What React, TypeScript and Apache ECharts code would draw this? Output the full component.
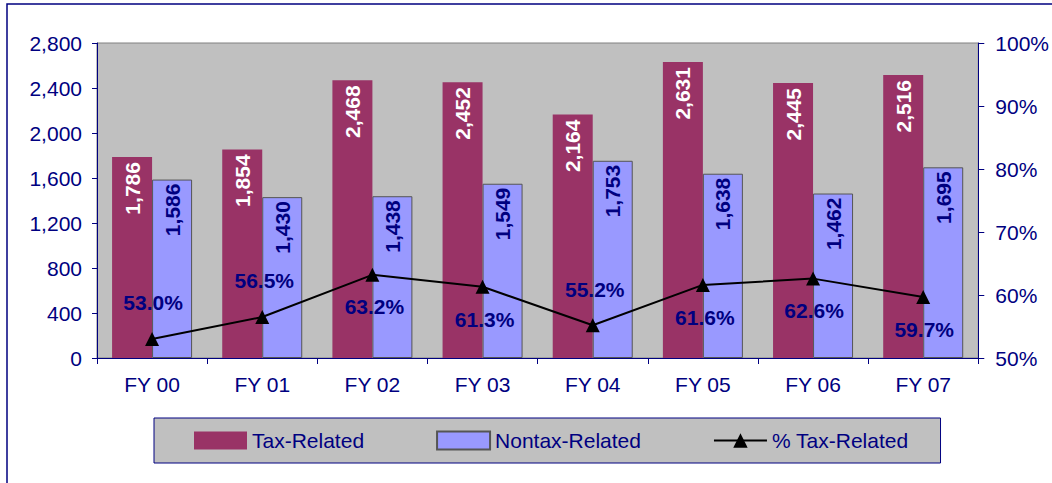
import React, { useEffect, useRef } from "react";
import * as echarts from "echarts";

const categories = ["FY 00", "FY 01", "FY 02", "FY 03", "FY 04", "FY 05", "FY 06", "FY 07"];
const taxRelated = [1786, 1854, 2468, 2452, 2164, 2631, 2445, 2516];
const nontaxRelated = [1586, 1430, 1438, 1549, 1753, 1638, 1462, 1695];
const pctTaxRelated = [53.0, 56.5, 63.2, 61.3, 55.2, 61.6, 62.6, 59.7];
const leftTicks = { min: 0, max: 2800, interval: 400 };
const rightTicks = { min: 50, max: 100, interval: 10 };

// label placement (style only)
const pctLabelOffsets: [number, number][] = [
  [1, -37], [2, -37], [2, 32], [2, 33], [2, -36], [2, 33], [1, 32], [1, 33],
];

const NAVY = "#000080";
const FONT = "'Liberation Sans', Arial, sans-serif";
const FS = 21;

export default function App() {
  const ref = useRef<HTMLDivElement>(null);
  useEffect(() => {
    document.body.style.margin = "0";
    if (!ref.current) return;
    const chart = echarts.init(ref.current, undefined, { renderer: "svg" });
    const fmt = (v: number) => v.toLocaleString("en-US");
    chart.setOption({
      animation: false,
      backgroundColor: "#ffffff",
      textStyle: { fontFamily: FONT },
      graphic: [
        {
          type: "rect",
          shape: { x: 7, y: 4, width: 1200, height: 700 },
          style: { fill: "none", stroke: NAVY, lineWidth: 1.5 },
          silent: true,
        },
      ],
      grid: {
        left: 97,
        right: 72,
        top: 43,
        bottom: 125,
        show: true,
        backgroundColor: "#c0c0c0",
        borderColor: "#808080",
        borderWidth: 1,
      },
      legend: {
        left: 154,
        top: 418,
        padding: [12, 32, 12, 40],
        itemGap: 72,
        itemWidth: 53,
        itemHeight: 18,
        backgroundColor: "#c0c0c0",
        borderColor: NAVY,
        borderWidth: 1,
        borderRadius: 0,
        textStyle: { color: NAVY, fontSize: FS, fontFamily: FONT },
        data: [
          { name: "Tax-Related", icon: "rect" },
          { name: "Nontax-Related", icon: "rect" },
          { name: "% Tax-Related" },
        ],
      },
      xAxis: {
        type: "category",
        data: categories,
        axisLine: { lineStyle: { color: NAVY, width: 1 } },
        axisTick: { show: true, length: 6, lineStyle: { color: NAVY } },
        axisLabel: { color: NAVY, fontSize: FS, margin: 16, fontFamily: FONT },
      },
      yAxis: [
        {
          type: "value",
          min: leftTicks.min,
          max: leftTicks.max,
          interval: leftTicks.interval,
          axisLine: { show: true, lineStyle: { color: NAVY, width: 1 } },
          axisTick: { show: true, length: 5, lineStyle: { color: NAVY } },
          splitLine: { show: false },
          axisLabel: { color: NAVY, fontSize: FS, margin: 15, fontFamily: FONT, formatter: fmt },
        },
        {
          type: "value",
          position: "right",
          min: rightTicks.min,
          max: rightTicks.max,
          interval: rightTicks.interval,
          axisLine: { show: true, lineStyle: { color: NAVY, width: 1 } },
          axisTick: { show: true, length: 6, lineStyle: { color: NAVY } },
          splitLine: { show: false },
          axisLabel: { color: NAVY, fontSize: FS, margin: 17, fontFamily: FONT, formatter: "{value}%" },
        },
      ],
      series: [
        {
          name: "Tax-Related",
          type: "bar",
          data: taxRelated,
          barWidth: 40,
          barGap: "0%",
          itemStyle: { color: "#993366" },
          label: {
            show: true,
            position: "insideTop",
            rotate: 90,
            align: "right",
            verticalAlign: "middle",
            distance: 5,
            color: "#ffffff",
            fontWeight: "bold",
            fontSize: FS,
            fontFamily: FONT,
            formatter: (p: any) => fmt(p.value),
          },
        },
        {
          name: "Nontax-Related",
          type: "bar",
          data: nontaxRelated,
          barWidth: 40,
          barGap: "0%",
          itemStyle: { color: "#9999ff", borderColor: "#555555", borderWidth: 1 },
          label: {
            show: true,
            position: "insideTop",
            rotate: 90,
            align: "right",
            verticalAlign: "middle",
            distance: 4,
            color: NAVY,
            fontWeight: "bold",
            fontSize: FS,
            fontFamily: FONT,
            formatter: (p: any) => fmt(p.value),
          },
        },
        {
          name: "% Tax-Related",
          type: "line",
          yAxisIndex: 1,
          z: 5,
          symbol: "triangle",
          symbolSize: 14,
          lineStyle: { color: "#000000", width: 2 },
          itemStyle: { color: "#000000" },
          data: pctTaxRelated.map((v, i) => ({
            value: v,
            label: {
              show: true,
              position: "inside",
              offset: pctLabelOffsets[i],
              color: NAVY,
              fontWeight: "bold",
              fontSize: FS,
              fontFamily: FONT,
              formatter: () => v.toFixed(1) + "%",
            },
          })),
        },
      ],
    });
    return () => chart.dispose();
  }, []);
  return <div ref={ref} style={{ width: 1052, height: 483 }} />;
}
